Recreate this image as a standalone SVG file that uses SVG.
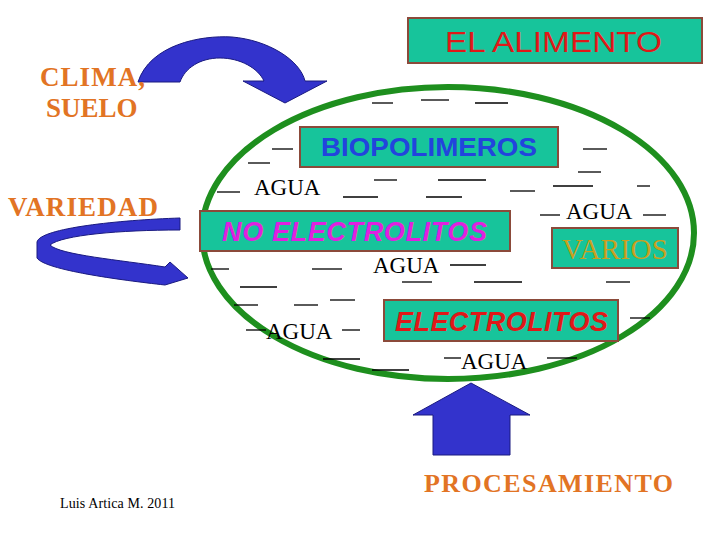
<svg xmlns="http://www.w3.org/2000/svg" width="720" height="540" viewBox="0 0 720 540">
<style>
.box{fill:#17c49b;stroke:#8b4a3a;stroke-width:2}
.or{font-family:"Liberation Serif",serif;font-weight:bold;fill:#e27424}
.ag{font-family:"Liberation Serif",serif;font-size:23px;fill:#000}
.ss{font-family:"Liberation Sans",sans-serif}
.d line{stroke:#000;stroke-width:1.3}
.arr{fill:#3333cc;stroke:#1a1a80;stroke-width:1}
</style>
<rect width="720" height="540" fill="#fff"/>
<g id="connectors">
<path class="arr" d="M138,82 C150,45 200,35 232,37 C268,40 300,60 305,81 L327,81 L285,103 L243,81 L264,81 C258,68 240,58 220,58 C200,58 185,68 180,82 Z"/>
<path class="arr" d="M180,218 L180,230 C120,230 62,235 50,245 C60,255 120,260 165,267 L170,262 L188,278 L165,285 C120,280 45,270 37,258 L37,242 C40,228 120,220 180,218 Z"/>
<path class="arr" d="M433,455 L433,415 L413,415 L471,383 L530,415 L510,415 L510,455 Z"/>
</g>
<g id="ellipse"><ellipse cx="448" cy="233" rx="246" ry="146" fill="none" stroke="#1e8f1e" stroke-width="6"/></g>
<g id="n-alimento"><rect class="box" x="408" y="18" width="294" height="45"/><text class="ss" x="445" y="52" font-size="29" fill="#e01818" textLength="217" lengthAdjust="spacingAndGlyphs">EL ALIMENTO</text></g>
<g id="n-clima"><text class="or" x="40" y="86" font-size="27" textLength="105">CLIMA,</text><text class="or" x="46" y="117" font-size="27">SUELO</text></g>
<g id="n-variedad"><text class="or" x="8" y="216" font-size="27" textLength="150">VARIEDAD</text></g>
<g id="n-proc"><text class="or" x="424" y="492" font-size="26" font-weight="normal" textLength="249">PROCESAMIENTO</text></g>
<g id="n-bio"><rect class="box" x="300" y="127" width="258" height="40"/><text class="ss" x="321" y="156" font-size="26" font-weight="bold" fill="#2244dd" textLength="216" lengthAdjust="spacingAndGlyphs">BIOPOLIMEROS</text></g>
<g id="n-noel"><rect class="box" x="200" y="211" width="310" height="40"/><text class="ss" x="222" y="241" font-size="27" font-weight="bold" font-style="italic" fill="#e020e0" textLength="265">NO ELECTROLITOS</text></g>
<g id="n-varios"><rect class="box" x="552" y="228" width="126" height="40"/><text x="562" y="259" font-family="Liberation Serif,serif" font-size="29" fill="#c8a020" textLength="106">VARIOS</text></g>
<g id="n-el"><rect class="box" x="384" y="300" width="234" height="41"/><text class="ss" x="395" y="331" font-size="27" font-weight="bold" font-style="italic" fill="#e01818" textLength="213">ELECTROLITOS</text></g>
<g id="agua">
<text class="ag" x="254" y="195">AGUA</text>
<text class="ag" x="566" y="219">AGUA</text>
<text class="ag" x="373" y="273">AGUA</text>
<text class="ag" x="266" y="339">AGUA</text>
<text class="ag" x="461" y="369">AGUA</text>
</g>
<g class="d">
<line x1="372" y1="103" x2="393" y2="103"/><line x1="421" y1="100" x2="449" y2="100"/><line x1="475" y1="103" x2="508" y2="103"/>
<line x1="272" y1="149" x2="293" y2="149"/><line x1="248" y1="163" x2="270" y2="163"/>
<line x1="583" y1="149" x2="607" y2="149"/><line x1="578" y1="172" x2="601" y2="172"/><line x1="553" y1="186" x2="593" y2="186"/><line x1="637" y1="186" x2="650" y2="186"/>
<line x1="217" y1="192" x2="240" y2="192"/><line x1="343" y1="197" x2="378" y2="197"/><line x1="374" y1="180" x2="397" y2="180"/><line x1="438" y1="180" x2="486" y2="180"/><line x1="426" y1="197" x2="462" y2="197"/><line x1="510" y1="191" x2="535" y2="191"/>
<line x1="540" y1="215" x2="560" y2="215"/><line x1="643" y1="215" x2="666" y2="215"/>
<line x1="211" y1="269" x2="229" y2="269"/><line x1="312" y1="269" x2="342" y2="269"/><line x1="450" y1="265" x2="486" y2="265"/><line x1="402" y1="282" x2="432" y2="282"/><line x1="474" y1="282" x2="522" y2="282"/><line x1="606" y1="282" x2="630" y2="282"/>
<line x1="240" y1="287" x2="277" y2="287"/><line x1="234" y1="305" x2="258" y2="305"/><line x1="294" y1="305" x2="318" y2="305"/><line x1="330" y1="300" x2="355" y2="300"/>
<line x1="246" y1="330" x2="266" y2="330"/><line x1="342" y1="330" x2="360" y2="330"/><line x1="630" y1="318" x2="650" y2="318"/>
<line x1="323" y1="359" x2="360" y2="359"/><line x1="372" y1="370" x2="409" y2="370"/><line x1="444" y1="358" x2="461" y2="358"/><line x1="547" y1="358" x2="577" y2="358"/>
</g>
<g id="n-author"><text x="60" y="508" font-family="Liberation Serif,serif" font-size="14" textLength="115">Luis Artica M. 2011</text></g>
</svg>
